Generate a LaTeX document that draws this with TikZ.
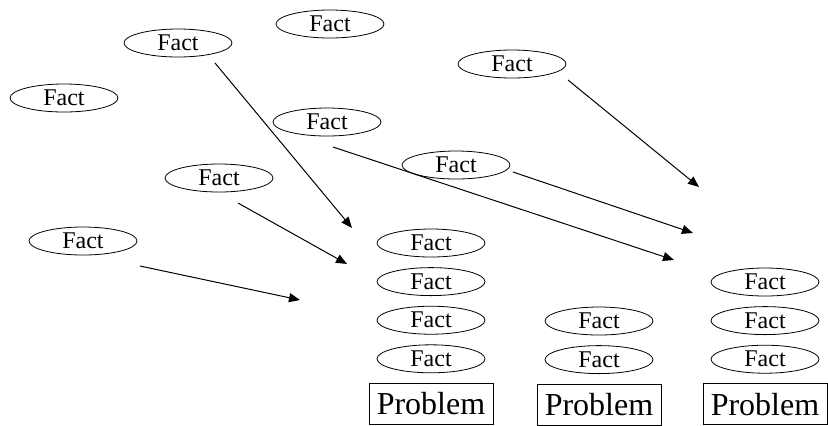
\documentclass[tikz,border=0pt]{standalone}
\usepackage{fontspec}
\setmainfont{Liberation Serif}
\usepackage{tikz}
\usetikzlibrary{arrows.meta, positioning, shapes.geometric}

\begin{document}
\begin{tikzpicture}[x=0.5pt, y=-0.5pt, node distance=19.3pt,
  fact/.style={draw, ellipse, minimum width=54pt, minimum height=14pt, inner sep=0pt, font=\fontsize{12}{12}\selectfont},
  problem/.style={draw, rectangle, minimum width=62pt, minimum height=20.5pt, inner sep=0pt, font=\fontsize{16}{16}\selectfont},
  link/.style={-{Triangle[length=5.5pt, width=4.5pt]}, line width=0.5pt}]
  \useasboundingbox (0,0) rectangle (828,425);
  % loose facts
  \node[fact] (f1) at (330,24) {Fact};
  \node[fact] (f2) at (178,43) {Fact};
  \node[fact] (f3) at (64,98) {Fact};
  \node[fact] (f4) at (327,122) {Fact};
  \node[fact] (f5) at (219,178) {Fact};
  \node[fact] (f6) at (512,64) {Fact};
  \node[fact] (f7) at (456,165) {Fact};
  \node[fact] (f8) at (83,241) {Fact};
  % first stack
  \node[fact] (a1) at (431,243) {Fact};
  \node[fact] (a2) [below of=a1] {Fact};
  \node[fact] (a3) [below of=a2] {Fact};
  \node[fact] (a4) [below of=a3] {Fact};
  \node[problem] (pa) [node distance=22.5pt, below of=a4] {Problem};
  % second stack
  \node[fact] (b3) at (599,321) {Fact};
  \node[fact] (b4) [below of=b3] {Fact};
  \node[problem] (pb) [node distance=22.5pt, below of=b4] {Problem};
  % third stack
  \node[fact] (c2) at (765,282) {Fact};
  \node[fact] (c3) [below of=c2] {Fact};
  \node[fact] (c4) [below of=c3] {Fact};
  \node[problem] (pc) [node distance=22.5pt, below of=c4] {Problem};
  % arrow ends
  \coordinate (s2) at (215,63);
  \coordinate (e2) at (352,228);
  \coordinate (s5) at (238,203);
  \coordinate (e5) at (347,264);
  \coordinate (s8) at (140,266);
  \coordinate (e8) at (300,300);
  \coordinate (s4) at (333,147);
  \coordinate (e4) at (674,260);
  \coordinate (s7) at (513,172);
  \coordinate (e7) at (693,233);
  \coordinate (s6) at (568,80);
  \coordinate (e6) at (699,187);
  \draw[link] (s2) -- (e2);
  \draw[link] (s5) -- (e5);
  \draw[link] (s8) -- (e8);
  \draw[link] (s4) -- (e4);
  \draw[link] (s7) -- (e7);
  \draw[link] (s6) -- (e6);
\end{tikzpicture}
\end{document}
